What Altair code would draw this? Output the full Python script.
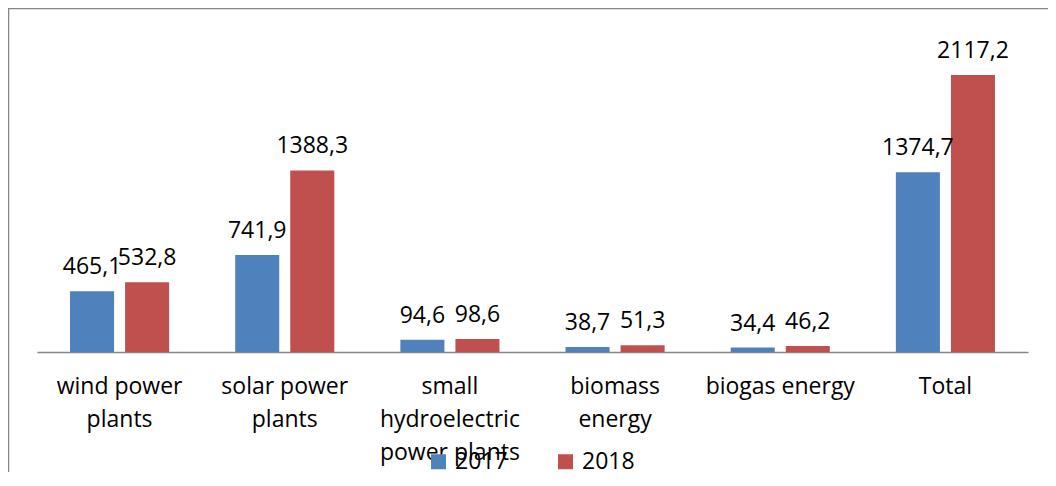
import altair as alt
import pandas as pd

categories = ["wind power plants", "solar power plants", "small hydroelectric power plants",
              "biomass energy", "biogas energy", "Total"]
label_lines = [["wind power", "plants"], ["solar power", "plants"],
               ["small", "hydroelectric", "power plants"], ["biomass", "energy"],
               ["biogas energy"], ["Total"]]
years = ["2017", "2018"]
v2017 = [465.1, 741.9, 94.6, 38.7, 34.4, 1374.7]
v2018 = [532.8, 1388.3, 98.6, 51.3, 46.2, 2117.2]
colors = ["#4F81BD", "#C0504D"]

rows = []
for c, a, b in zip(categories, v2017, v2018):
    rows.append({"category": c, "year": "2017", "value": a})
    rows.append({"category": c, "year": "2018", "value": b})
df = pd.DataFrame(rows)

# label expression for multi-line category labels
parts = []
for c, lines in zip(categories, label_lines):
    arr = "[" + ",".join("'" + l + "'" for l in lines) + "]"
    parts.append(f"datum.value == '{c}' ? {arr} : ")
label_expr = "".join(parts) + "datum.label"

FONT = "Open Sans"

x_enc = alt.X("category:N", sort=categories,
              scale=alt.Scale(paddingInner=0.4, paddingOuter=0.2),
              axis=alt.Axis(title=None, labelAngle=0, ticks=False, labelExpr=label_expr,
                            labelFont=FONT, labelFontSize=23, labelColor="#000000",
                            labelLineHeight=33, labelPadding=23, labelBaseline="top",
                            domainColor="#868686", domainWidth=1.5, labelLimit=400))
y_enc = alt.Y("value:Q", scale=alt.Scale(domain=[0, 2500], nice=False), axis=None)
xoff = alt.XOffset("year:N", sort=years, scale=alt.Scale(paddingInner=0.2, paddingOuter=0))

base = alt.Chart(df).encode(x=x_enc, y=y_enc, xOffset=xoff)

bars = base.mark_bar().encode(
    color=alt.Color("year:N", sort=years,
                    scale=alt.Scale(domain=years, range=colors),
                    legend=alt.Legend(title=None, orient="none", direction="horizontal",
                                      legendX=390, legendY=425, symbolType="square",
                                      symbolSize=225, symbolStrokeWidth=0,
                                      labelFont=FONT, labelFontSize=23, labelColor="#000000",
                                      labelOffset=5, columnPadding=46, padding=0))
)

labels = base.mark_text(font=FONT, fontSize=23, baseline="alphabetic", dy=-17,
                        color="#000000").transform_calculate(
    lab="replace(format(datum.value, '.1f'), '.', ',')"
).encode(text="lab:N")

frame = alt.Chart(pd.DataFrame({"a": [0]})).mark_rect(
    fill=None, stroke="#868686", strokeWidth=1.5
).encode(x=alt.value(-28.5), x2=alt.value(1200), y=alt.value(-16.5), y2=alt.value(900))

chart = alt.layer(frame, bars, labels).properties(
    width=991, height=327,
    padding={"left": 29, "top": 17, "right": 20, "bottom": 120},
    autosize=alt.AutoSizeParams(type="none"),
).configure_view(stroke=None)

chart.save("out.html", embed_options={"renderer": "svg", "actions": False})
